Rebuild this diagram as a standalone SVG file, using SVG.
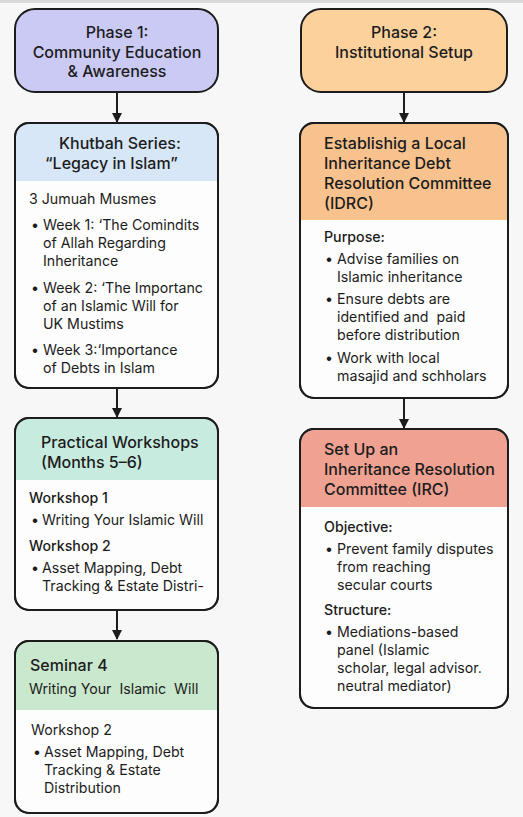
<svg xmlns="http://www.w3.org/2000/svg" width="523" height="817" viewBox="0 0 523 817">
<style>
.bg{fill:#f7f7f7}
.box{fill:#fdfdfd;stroke:#1c1c1c;stroke-width:2}
.edge{fill:none;stroke:#1c1c1c;stroke-width:2}
text{font-family:Inter,"Noto Sans","Liberation Sans",sans-serif;fill:#1c1c1c}
.t{font-size:16px;font-weight:500}
.b{font-size:14.2px}
.h{font-size:14.2px;font-weight:500}
.c{text-anchor:middle}
</style>
<defs>
<marker id="arr" viewBox="0 0 10 10" refX="9" refY="5" markerWidth="10" markerHeight="10" markerUnits="userSpaceOnUse" orient="auto">
<path d="M0,0 L10,5 L0,10 z" fill="#1c1c1c"/>
</marker>
</defs>
<rect class="bg" x="0" y="0" width="523" height="817"/>
<rect x="0" y="0" width="523" height="3" fill="#d9d9d9"/>

<g id="connectors">
<line class="edge" x1="117" y1="92" x2="117" y2="122" marker-end="url(#arr)"/>
<line class="edge" x1="117" y1="388" x2="117" y2="417" marker-end="url(#arr)"/>
<line class="edge" x1="117" y1="610" x2="117" y2="639" marker-end="url(#arr)"/>
<line class="edge" x1="404" y1="92" x2="404" y2="122" marker-end="url(#arr)"/>
<line class="edge" x1="404" y1="398" x2="404" y2="428" marker-end="url(#arr)"/>
</g>

<g id="phase1">
<rect x="15" y="9" width="203" height="83" rx="20" fill="#cbcaf4" stroke="#1c1c1c" stroke-width="2"/>
<text class="t c" x="117" y="38">Phase 1:</text>
<text class="t c" x="117" y="58">Community Education</text>
<text class="t c" x="117" y="77">&amp; Awareness</text>
</g>

<g id="phase2">
<rect x="301" y="9" width="206" height="83" rx="20" fill="#fcd19c" stroke="#1c1c1c" stroke-width="2"/>
<text class="t c" x="404" y="38">Phase 2:</text>
<text class="t c" x="404" y="58">Institutional Setup</text>
</g>

<g id="khutbah">
<rect class="box" x="15" y="123" width="203" height="265" rx="14"/>
<path d="M16,181 V137 A13,13 0 0 1 29,124 H204 A13,13 0 0 1 217,137 V181 Z" fill="#d7e7f8"/>
<rect x="15" y="123" width="203" height="265" rx="14" fill="none" stroke="#1c1c1c" stroke-width="2"/>
<text class="t" x="59" y="149">Khutbah Series:</text>
<text class="t" x="45" y="169">“Legacy in Islam”</text>
<text class="b" x="29" y="204">3 Jumuah Musmes</text>
<text class="b" x="31" y="230">•</text>
<text class="b" x="43" y="230">Week 1: ‘The Comindits</text>
<text class="b" x="43" y="248">of Allah Regarding</text>
<text class="b" x="43" y="266">Inheritance</text>
<text class="b" x="31" y="293">•</text>
<text class="b" x="43" y="293">Week 2: ‘The Importanc</text>
<text class="b" x="43" y="311">of an Islamic Will for</text>
<text class="b" x="43" y="329">UK Mustims</text>
<text class="b" x="31" y="355">•</text>
<text class="b" x="43" y="355">Week 3:‘Importance</text>
<text class="b" x="43" y="373">of Debts in Islam</text>
</g>

<g id="workshops">
<rect class="box" x="15" y="418" width="203" height="192" rx="14"/>
<path d="M16,480 V432 A13,13 0 0 1 29,419 H204 A13,13 0 0 1 217,432 V480 Z" fill="#c8ebe0"/>
<rect x="15" y="418" width="203" height="192" rx="14" fill="none" stroke="#1c1c1c" stroke-width="2"/>
<text class="t" x="41" y="448">Practical Workshops</text>
<text class="t" x="41" y="468">(Months 5–6)</text>
<text class="h" x="29" y="503">Workshop 1</text>
<text class="b" x="31" y="525">•</text>
<text class="b" x="42" y="525">Writing Your Islamic Will</text>
<text class="h" x="29" y="551">Workshop 2</text>
<text class="b" x="31" y="573">•</text>
<text class="b" x="42" y="573">Asset Mapping, Debt</text>
<text class="b" x="42" y="591">Tracking &amp; Estate Distri-</text>
</g>

<g id="seminar">
<rect class="box" x="15" y="641" width="203" height="172" rx="14"/>
<path d="M16,710 V655 A13,13 0 0 1 29,642 H204 A13,13 0 0 1 217,655 V710 Z" fill="#c9e8cd"/>
<rect x="15" y="641" width="203" height="172" rx="14" fill="none" stroke="#1c1c1c" stroke-width="2"/>
<text class="t" x="30" y="671">Seminar 4</text>
<text class="b" x="29" y="694" xml:space="preserve">Writing Your  Islamic  Will</text>
<text class="b" x="31" y="735">Workshop 2</text>
<text class="b" x="33" y="757">•</text>
<text class="b" x="44" y="757">Asset Mapping, Debt</text>
<text class="b" x="44" y="775">Tracking &amp; Estate</text>
<text class="b" x="44" y="793">Distribution</text>
</g>

<g id="idrc">
<rect class="box" x="300" y="123" width="208" height="275" rx="14"/>
<path d="M301,220 V137 A13,13 0 0 1 314,124 H494 A13,13 0 0 1 507,137 V220 Z" fill="#f8c28e"/>
<rect x="300" y="123" width="208" height="275" rx="14" fill="none" stroke="#1c1c1c" stroke-width="2"/>
<text class="t" x="324" y="149">Establishig a Local</text>
<text class="t" x="324" y="169">Inheritance Debt</text>
<text class="t" x="324" y="189">Resolution Committee</text>
<text class="t" x="324" y="209">(IDRC)</text>
<text class="h" x="324" y="242">Purpose:</text>
<text class="b" x="325" y="264">•</text>
<text class="b" x="337" y="264">Advise families on</text>
<text class="b" x="337" y="282">Islamic inheritance</text>
<text class="b" x="325" y="304">•</text>
<text class="b" x="337" y="304">Ensure debts are</text>
<text class="b" x="337" y="322" xml:space="preserve">identified and  paid</text>
<text class="b" x="337" y="340">before distribution</text>
<text class="b" x="325" y="363">•</text>
<text class="b" x="337" y="363">Work with local</text>
<text class="b" x="337" y="381">masajid and schholars</text>
</g>

<g id="irc">
<rect class="box" x="300" y="429" width="208" height="279" rx="14"/>
<path d="M301,507 V443 A13,13 0 0 1 314,430 H494 A13,13 0 0 1 507,443 V507 Z" fill="#efa192"/>
<rect x="300" y="429" width="208" height="279" rx="14" fill="none" stroke="#1c1c1c" stroke-width="2"/>
<text class="t" x="324" y="455">Set Up an</text>
<text class="t" x="324" y="475">Inheritance Resolution</text>
<text class="t" x="324" y="495">Committee (IRC)</text>
<text class="h" x="324" y="532">Objective:</text>
<text class="b" x="325" y="554">•</text>
<text class="b" x="337" y="554">Prevent family disputes</text>
<text class="b" x="337" y="572">from reaching</text>
<text class="b" x="337" y="590">secular courts</text>
<text class="h" x="324" y="615">Structure:</text>
<text class="b" x="325" y="637">•</text>
<text class="b" x="337" y="637">Mediations-based</text>
<text class="b" x="337" y="655">panel (Islamic</text>
<text class="b" x="337" y="673">scholar, legal advisor.</text>
<text class="b" x="337" y="691">neutral mediator)</text>
</g>
</svg>
